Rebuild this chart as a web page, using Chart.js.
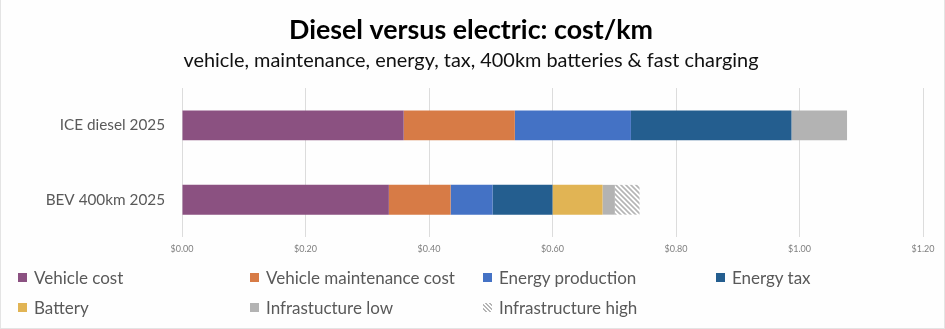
<!DOCTYPE html>
<html>
<head>
<meta charset="utf-8">
<script src="https://cdn.jsdelivr.net/npm/chart.js@4.4.1/dist/chart.umd.min.js"></script>
<style>
  html, body { margin: 0; padding: 0; background: #fff; }
  .wrap {
    position: relative; width: 945px; height: 329px; box-sizing: border-box;
    border: 1px solid #e4e4e4; border-top: none; background: #fefefe;
  }
  #costChart { position: absolute; left: 0; top: 0; }
  .legend-item {
    position: absolute; display: flex; align-items: center; height: 20px;
    font-family: Lato, sans-serif; font-size: 17px; color: #595959; white-space: nowrap;
  }
  .legend-box { width: 9px; height: 9px; margin-right: 7px; }
</style>
</head>
<body>
<div class="wrap">
  <canvas id="costChart" width="945" height="329"></canvas>
  <div id="legend"></div>
</div>
<script>
// cost per km, one value per vehicle
const vehicles = ['ICE diesel 2025', 'BEV 400km 2025'];
const vehicleCost = [0.359, 0.335];
const maintenanceCost = [0.180, 0.100];
const energyProduction = [0.188, 0.068];
const energyTax = [0.260, 0.097];
const battery = [null, 0.081];
const infraLow = [0.090, 0.020];
const infraHigh = [null, 0.040];
const xTicks = [0, 0.2, 0.4, 0.6, 0.8, 1.0, 1.2];

// diagonal hatch for the high infrastructure estimate
function hatchPattern() {
    const tile = document.createElement('canvas');
    tile.width = 5;
    tile.height = 5;
    const c = tile.getContext('2d');
    c.fillStyle = '#ffffff';
    c.fillRect(0, 0, 5, 5);
    c.strokeStyle = '#b5b5b5';
    c.lineWidth = 1.6;
    c.beginPath();
    c.moveTo(-1, -1); c.lineTo(6, 6);
    c.moveTo(-1, 4); c.lineTo(1, 6);
    c.moveTo(4, -1); c.lineTo(6, 1);
    c.stroke();
    return c.createPattern(tile, 'repeat');
}

const series = [
    { label: 'Vehicle cost', data: vehicleCost, color: '#8b5181' },
    { label: 'Vehicle maintenance cost', data: maintenanceCost, color: '#d77b46' },
    { label: 'Energy production', data: energyProduction, color: '#4472c5' },
    { label: 'Energy tax', data: energyTax, color: '#245e8f' },
    { label: 'Battery', data: battery, color: '#e1b454' },
    { label: 'Infrastucture low', data: infraLow, color: '#b3b3b3' },
    { label: 'Infrastructure high', data: infraHigh, color: hatchPattern(), hatch: true }
];

const ctx = document.getElementById('costChart');
new Chart(ctx, {
    type: 'bar',
    data: {
        labels: vehicles,
        datasets: series.map(s => ({
            label: s.label,
            data: s.data,
            backgroundColor: s.color,
            borderWidth: 0,
            categoryPercentage: 1,
            barPercentage: 0.4
        }))
    },
    options: {
        indexAxis: 'y',
        responsive: false,
        animation: false,
        layout: { padding: { left: 18, right: 23, top: 0, bottom: 70 } },
        plugins: {
            legend: { display: false },
            tooltip: { enabled: false },
            title: {
                display: true,
                text: 'Diesel versus electric: cost/km',
                color: '#000',
                font: { family: 'Lato', size: 26.8, weight: 'bold' },
                padding: { top: 14, bottom: 2 }
            },
            subtitle: {
                display: true,
                text: 'vehicle, maintenance, energy, tax, 400km batteries & fast charging',
                color: '#111',
                font: { family: 'Lato', size: 19.9 },
                padding: { top: 0, bottom: 16 }
            }
        },
        scales: {
            x: {
                stacked: true,
                min: 0,
                max: 1.2,
                afterBuildTicks: scale => { scale.ticks = xTicks.map(v => ({ value: v })); },
                afterFit: scale => { scale.height = 22; },
                grid: { color: '#dcdcdc', drawTicks: false },
                border: { display: false },
                ticks: {
                    padding: 7,
                    color: '#7f7f7f',
                    font: { family: 'Lato', size: 9 },
                    callback: v => '$' + Number(v).toFixed(2)
                }
            },
            y: {
                stacked: true,
                afterFit: scale => { scale.width = 163; },
                grid: { display: false },
                border: { display: false },
                ticks: {
                    padding: 9,
                    color: '#595959',
                    font: { family: 'Lato', size: 15.3 }
                }
            }
        }
    }
});

// legend laid out in fixed columns, two rows
const legendCols = [17, 249, 482, 715];
const legendRows = [267, 297];
document.getElementById('legend').innerHTML = series.map((s, i) => {
    const left = legendCols[i % 4];
    const top = legendRows[Math.floor(i / 4)];
    const fill = s.hatch
        ? 'background: repeating-linear-gradient(45deg, #fff 0 1.5px, #b5b5b5 1.5px 3px);'
        : `background:${s.color};`;
    return `
    <div class="legend-item" style="left:${left}px; top:${top}px;">
      <span class="legend-box" style="${fill}"></span>${s.label}
    </div>`;
}).join('');
</script>
</body>
</html>
